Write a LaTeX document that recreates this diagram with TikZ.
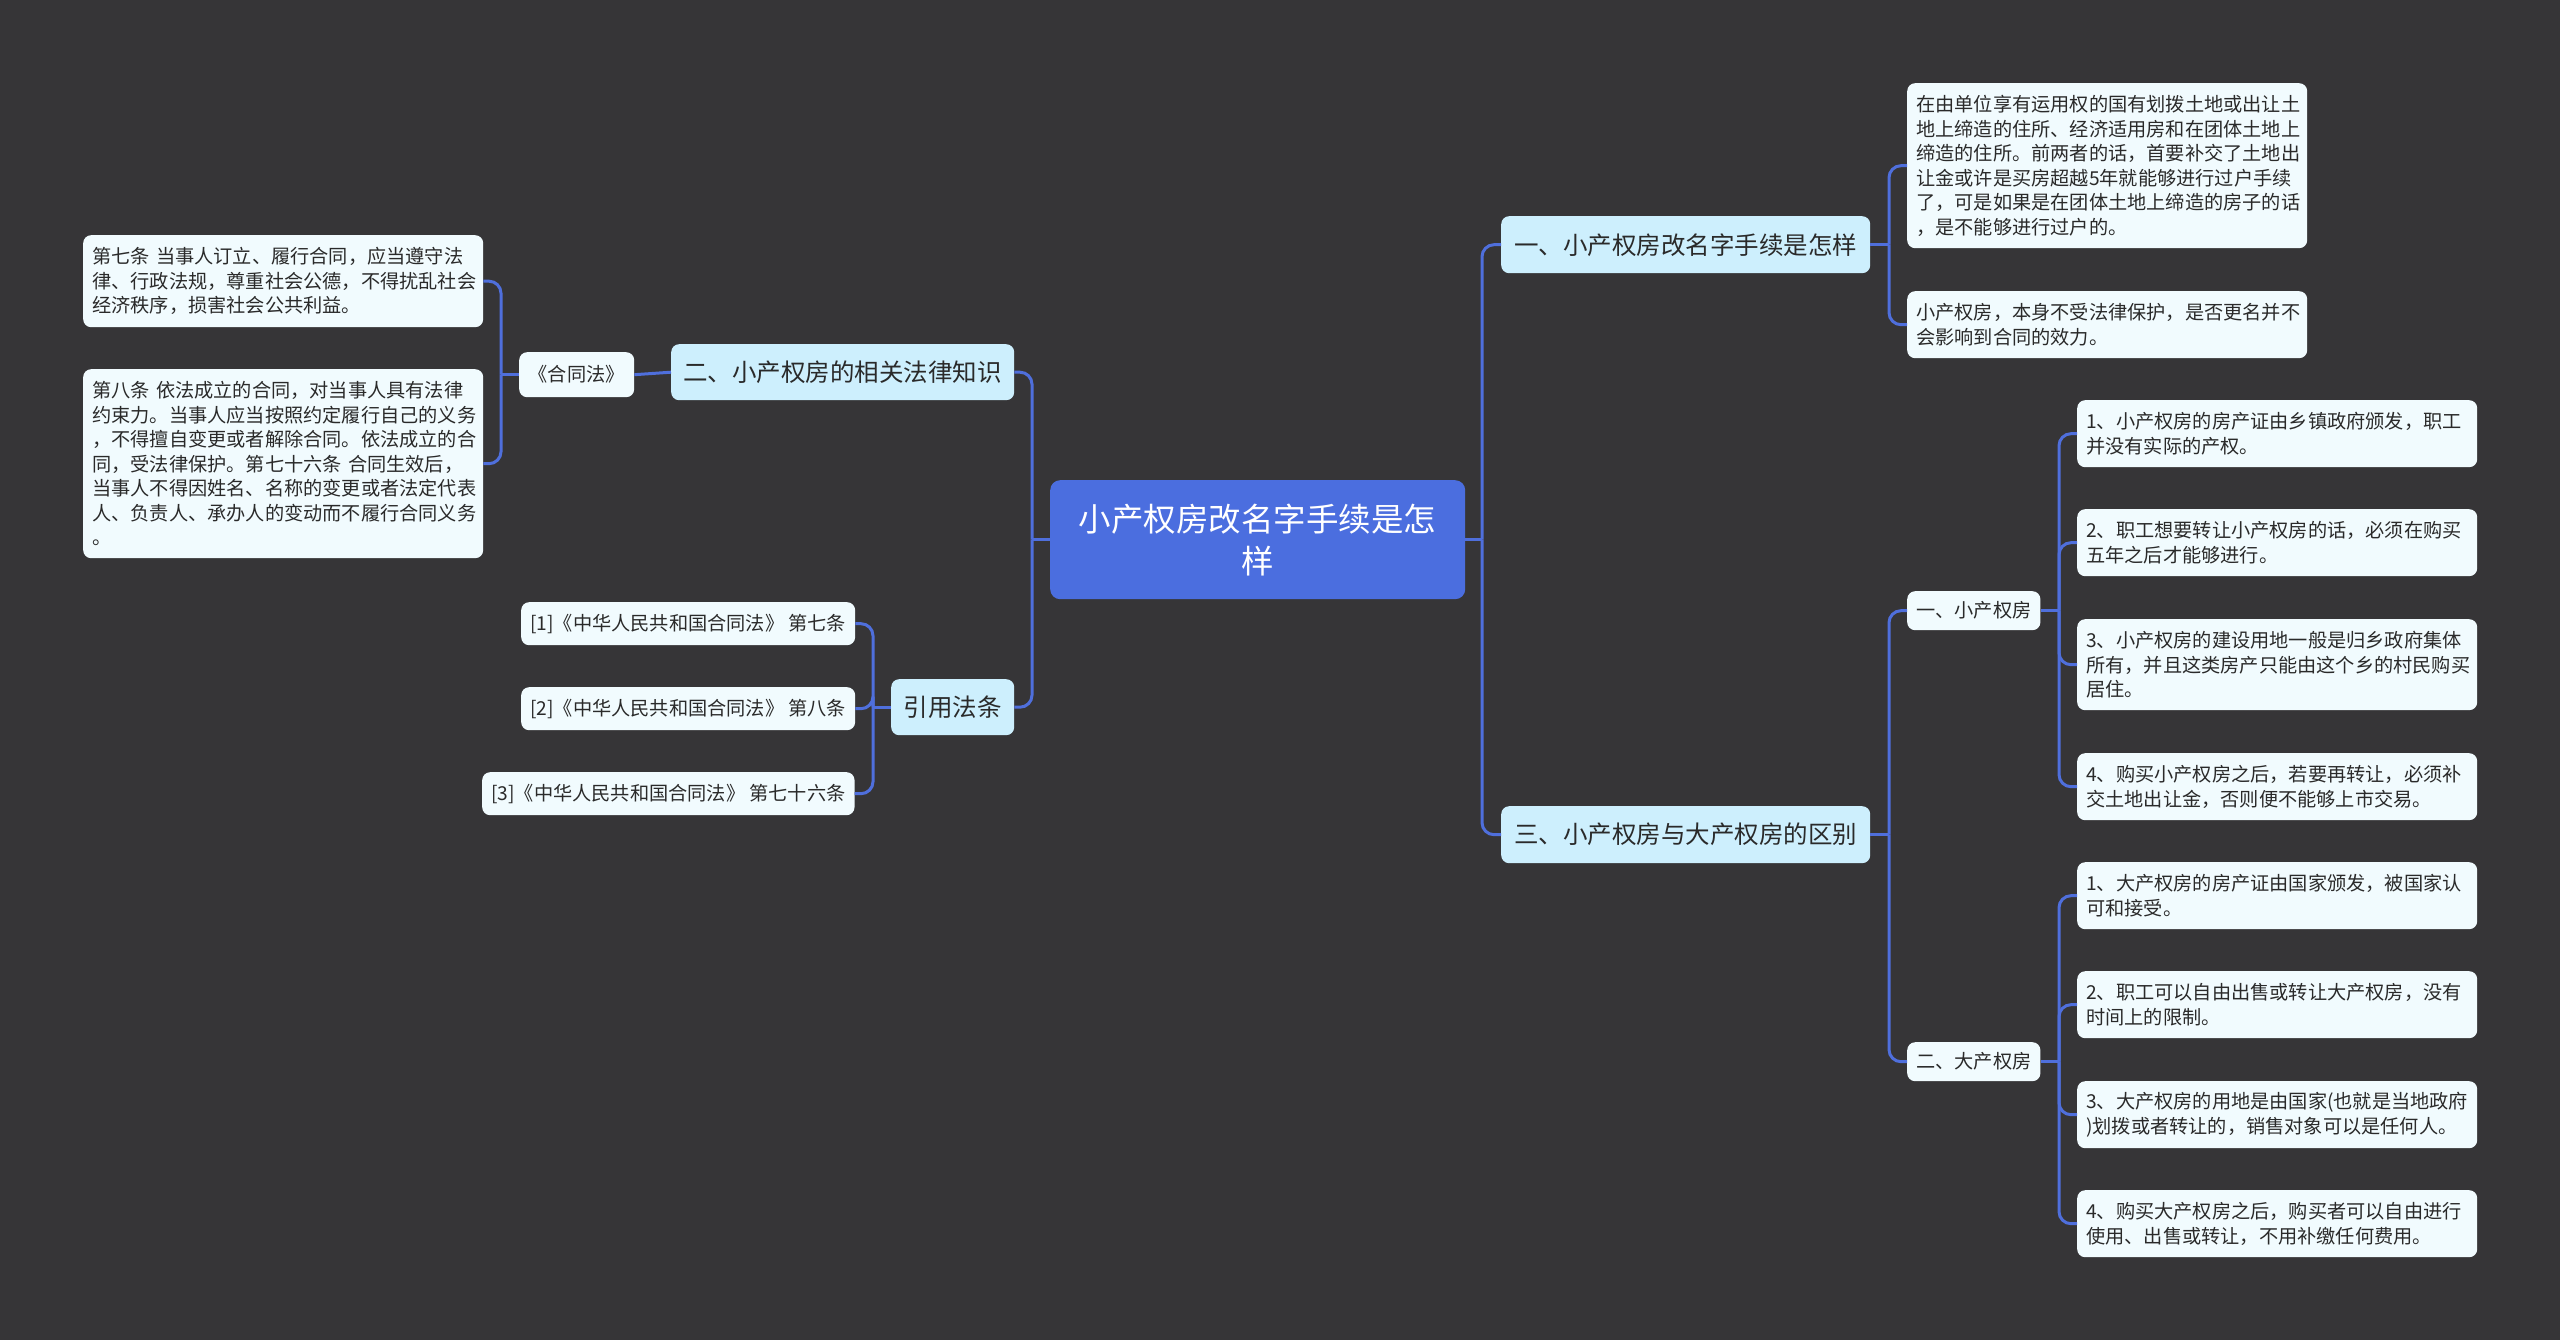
\documentclass[tikz,border=0pt]{standalone}
\usepackage{fontspec}
\setmainfont{Noto Sans CJK SC}
\definecolor{bg}{HTML}{363537}
\definecolor{conn}{HTML}{4F6FDC}
\definecolor{cblue}{HTML}{4B6EDF}
\definecolor{lblue}{HTML}{CDEFFD}
\definecolor{leaf}{HTML}{F1FBFE}
\definecolor{txt}{HTML}{2A2A2A}
\tikzset{
  box/.style={draw=none, rounded corners=8pt, anchor=north west, inner xsep=9pt, inner ysep=0pt, text=txt},
  leafbox/.style={box, fill=leaf, align=left, font=\fontsize{19.2}{24.5}\selectfont},
  smallbox/.style={box, fill=leaf, align=center, font=\fontsize{19.2}{24.5}\selectfont},
  lonebox/.style={box, fill=lblue, align=center, font=\fontsize{24.5}{30}\selectfont},
  rootbox/.style={box, fill=cblue, rounded corners=10pt, align=center, text=white, font=\fontsize{32.5}{42}\selectfont},
  conn/.style={draw=conn, line width=3pt},
  rconn/.style={conn, rounded corners=12pt}
}
\begin{document}
\begin{tikzpicture}[x=1pt,y=-1pt]
\fill[bg] (0,0) rectangle (2560,1340);
\useasboundingbox (0,0) rectangle (2560,1340);

% spines
\coordinate (sR1) at (1482,0);
\coordinate (sR2) at (1889,0);
\coordinate (sR3) at (2059,0);
\coordinate (sL1) at (1032,0);
\coordinate (sL2) at (501,0);
\coordinate (sL3) at (873,0);

% root
\node[rootbox, minimum width=415pt, minimum height=119pt] (c) at (1050,480) {小产权房改名字手续是怎\\样};

% level 1
\node[lonebox, minimum width=369pt, minimum height=57pt] (a1) at (1501,216) {一、小产权房改名字手续是怎样};
\node[lonebox, minimum width=369pt, minimum height=57pt] (a3) at (1501,806) {三、小产权房与大产权房的区别};
\node[lonebox, minimum width=343pt, minimum height=56pt] (a2) at (671,344) {二、小产权房的相关法律知识};
\node[lonebox, minimum width=123pt, minimum height=56pt] (a4) at (891,679) {引用法条};

% right top
\node[leafbox, text width=382pt, minimum height=165pt] (t1) at (1907,83) {在由单位享有运用权的国有划拨土地或出让土\\地上缔造的住所、经济适用房和在团体土地上\\缔造的住所。前两者的话，首要补交了土地出\\让金或许是买房超越5年就能够进行过户手续\\了，可是如果是在团体土地上缔造的房子的话\\，是不能够进行过户的。};
\node[leafbox, text width=382pt, minimum height=67pt] (t2) at (1907,291) {小产权房，本身不受法律保护，是否更名并不\\会影响到合同的效力。};

% right bottom
\node[smallbox, minimum width=132pt, minimum height=39pt] (x1) at (1907,591) {一、小产权房};
\node[smallbox, minimum width=132pt, minimum height=39pt] (x2) at (1907,1042) {二、大产权房};

\node[leafbox, text width=382pt, minimum height=67pt] (s1) at (2077,400) {1、小产权房的房产证由乡镇政府颁发，职工\\并没有实际的产权。};
\node[leafbox, text width=382pt, minimum height=67pt] (s2) at (2077,509) {2、职工想要转让小产权房的话，必须在购买\\五年之后才能够进行。};
\node[leafbox, text width=382pt, minimum height=91pt] (s3) at (2077,619) {3、小产权房的建设用地一般是归乡政府集体\\所有，并且这类房产只能由这个乡的村民购买\\居住。};
\node[leafbox, text width=382pt, minimum height=67pt] (s4) at (2077,753) {4、购买小产权房之后，若要再转让，必须补\\交土地出让金，否则便不能够上市交易。};

\node[leafbox, text width=382pt, minimum height=67pt] (b1) at (2077,862) {1、大产权房的房产证由国家颁发，被国家认\\可和接受。};
\node[leafbox, text width=382pt, minimum height=67pt] (b2) at (2077,971) {2、职工可以自由出售或转让大产权房，没有\\时间上的限制。};
\node[leafbox, text width=382pt, minimum height=67pt] (b3) at (2077,1081) {3、大产权房的用地是由国家(也就是当地政府\\)划拨或者转让的，销售对象可以是任何人。};
\node[leafbox, text width=382pt, minimum height=67pt] (b4) at (2077,1190) {4、购买大产权房之后，购买者可以自由进行\\使用、出售或转让，不用补缴任何费用。};

% left
\node[smallbox, minimum width=115pt, minimum height=45pt] (h) at (519,352) {《合同法》};
\node[leafbox, text width=382pt, minimum height=92pt] (l7) at (83,235) {第七条 当事人订立、履行合同，应当遵守法\\律、行政法规，尊重社会公德，不得扰乱社会\\经济秩序，损害社会公共利益。};
\node[leafbox, text width=382pt, minimum height=189pt] (l8) at (83,369) {第八条 依法成立的合同，对当事人具有法律\\约束力。当事人应当按照约定履行自己的义务\\，不得擅自变更或者解除合同。依法成立的合\\同，受法律保护。第七十六条 合同生效后，\\当事人不得因姓名、名称的变更或者法定代表\\人、负责人、承办人的变动而不履行合同义务\\。};

\node[smallbox, minimum width=333pt, minimum height=43pt] (r1) at (521,602) {\relax[1]《中华人民共和国合同法》 第七条};
\node[smallbox, minimum width=333pt, minimum height=43pt] (r2) at (521,687) {\relax[2]《中华人民共和国合同法》 第八条};
\node[smallbox, minimum width=372pt, minimum height=43pt] (r3) at (482,772) {\relax[3]《中华人民共和国合同法》 第七十六条};

% connectors: root right
\draw[conn] (c.east) -- (c.east -| sR1);
\draw[rconn] (c.east -| sR1) |- (a1.west);
\draw[rconn] (c.east -| sR1) |- (a3.west);
% root left
\draw[conn] (c.west) -- (c.west -| sL1);
\draw[rconn] (c.west -| sL1) |- (a2.east);
\draw[rconn] (c.west -| sL1) |- (a4.east);
% a1
\draw[conn] (a1.east) -- (a1.east -| sR2);
\draw[rconn] (a1.east -| sR2) |- (t1.west);
\draw[rconn] (a1.east -| sR2) |- (t2.west);
% a3
\draw[conn] (a3.east) -- (a3.east -| sR2);
\draw[rconn] (a3.east -| sR2) |- (x1.west);
\draw[rconn] (a3.east -| sR2) |- (x2.west);
% x1
\draw[conn] (x1.east) -- (x1.east -| sR3);
\draw[rconn] (x1.east -| sR3) |- (s1.west);
\draw[rconn] (x1.east -| sR3) |- (s2.west);
\draw[rconn] (x1.east -| sR3) |- (s3.west);
\draw[rconn] (x1.east -| sR3) |- (s4.west);
% x2
\draw[conn] (x2.east) -- (x2.east -| sR3);
\draw[rconn] (x2.east -| sR3) |- (b1.west);
\draw[rconn] (x2.east -| sR3) |- (b2.west);
\draw[rconn] (x2.east -| sR3) |- (b3.west);
\draw[rconn] (x2.east -| sR3) |- (b4.west);
% a2
\draw[conn] (a2.west) -- (h.east);
\draw[conn] (h.west) -- (h.west -| sL2);
\draw[rconn] (h.west -| sL2) |- (l7.east);
\draw[rconn] (h.west -| sL2) |- (l8.east);
% a4
\draw[conn] (a4.west) -- (a4.west -| sL3);
\draw[rconn] (a4.west -| sL3) |- (r1.east);
\draw[rconn] (a4.west -| sL3) |- (r2.east);
\draw[rconn] (a4.west -| sL3) |- (r3.east);
\end{tikzpicture}
\end{document}
